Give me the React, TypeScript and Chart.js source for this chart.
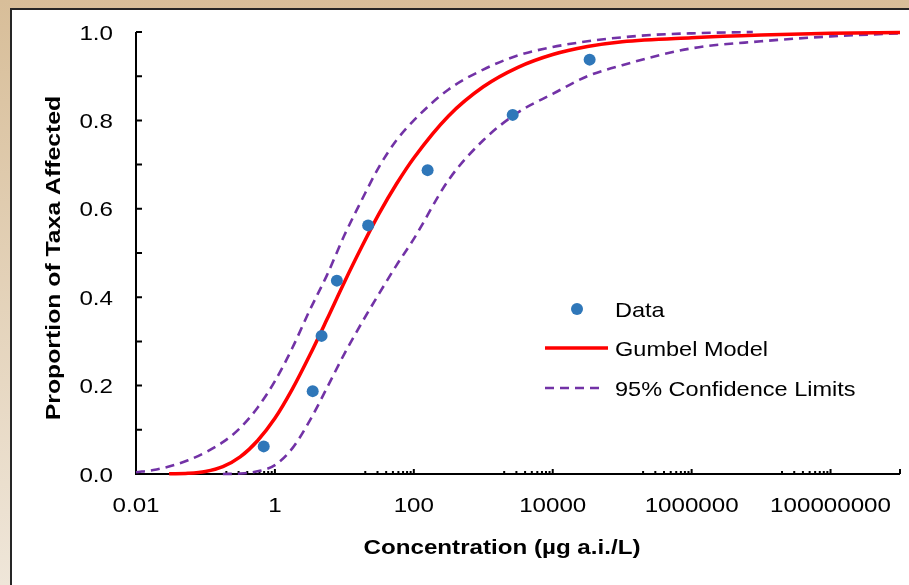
import { useEffect, useRef } from "react";
import { Chart, registerables } from "chart.js";

Chart.register(...registerables);

// ---- Data ----
const dataConc = [0.69, 3.5, 4.7, 7.8, 22, 158, 2650, 34000];
const dataProp = [0.0625, 0.1875, 0.3125, 0.4375, 0.5625, 0.6875, 0.8125, 0.9375];

const modelConc = [0.03, 0.056, 0.1, 0.178, 0.316, 0.562, 1, 1.78, 3.16, 5.62, 10, 17.8, 31.6, 56.2, 100, 316, 1000, 3160, 10000, 31600, 1e5, 1e6, 1e7, 1e8, 1e9];
const modelProp = [0.0003, 0.0015, 0.0057, 0.0166, 0.0386, 0.0753, 0.126, 0.192, 0.268, 0.35, 0.434, 0.514, 0.589, 0.656, 0.715, 0.81, 0.876, 0.92, 0.949, 0.967, 0.978, 0.987, 0.993, 0.997, 0.999];

const upperConc = [0.01, 0.0178, 0.0316, 0.0562, 0.1, 0.178, 0.316, 0.562, 1, 1.78, 3.16, 5.62, 10, 17.8, 31.6, 56.2, 100, 316, 1000, 3160, 10000, 31600, 1e5, 316000, 1e6, 3.16e6, 7.6e6];
const upperProp = [0.004, 0.009, 0.018, 0.031, 0.049, 0.072, 0.104, 0.15, 0.21, 0.285, 0.37, 0.45, 0.54, 0.62, 0.695, 0.755, 0.8, 0.87, 0.915, 0.947, 0.966, 0.979, 0.988, 0.994, 0.997, 0.999, 1.0];

const lowerConc = [0.178, 0.316, 0.562, 1, 1.78, 3.16, 5.62, 10, 17.8, 31.6, 56.2, 100, 316, 1000, 3160, 10000, 31600, 1e5, 1e6, 1e7, 1e8, 1e9];
const lowerProp = [0.0, 0.001, 0.006, 0.02, 0.058, 0.12, 0.195, 0.272, 0.342, 0.408, 0.472, 0.532, 0.665, 0.755, 0.818, 0.86, 0.9, 0.925, 0.963, 0.979, 0.99, 0.997];

// ---- Axis ticks ----
const xTickValues = [0.01, 1, 100, 10000, 1000000, 100000000];
const xTickLabels = ["0.01", "1", "100", "10000", "1000000", "100000000"];
const xMajorMarks = [1, 100, 10000, 1000000, 100000000, 1000000000];
const xMinorDecades = [0.1, 10, 1000, 100000, 10000000];
const xMinorMultipliers = [2, 3, 4, 5, 6, 7, 8, 9];
const yTickValues = [0, 0.2, 0.4, 0.6, 0.8, 1.0];
const yTickLabels = ["0.0", "0.2", "0.4", "0.6", "0.8", "1.0"];
const yMarkValues = [0.1, 0.2, 0.3, 0.4, 0.5, 0.6, 0.7, 0.8, 0.9, 1.0];

const legendLabels = ["Data", "Gumbel Model", "95% Confidence Limits"];
const xTitle = "Concentration (µg a.i./L)";
const yTitle = "Proportion of Taxa Affected";

const BLUE = "#2f77b9";
const RED = "#ff0000";
const PURPLE = "#7232a6";
const FAMILY = "'Liberation Sans', Arial, sans-serif";

function drawText(
  c: CanvasRenderingContext2D,
  text: string,
  x: number,
  y: number,
  align: CanvasTextAlign,
  font: string,
  sx: number,
  rot = 0
) {
  c.save();
  c.translate(x, y);
  if (rot) c.rotate(rot);
  c.scale(sx, 1);
  c.font = font;
  c.textAlign = align;
  c.textBaseline = "alphabetic";
  c.fillStyle = "#000";
  c.fillText(text, 0, 0);
  c.restore();
}

export default function App() {
  const ref = useRef<HTMLCanvasElement>(null);

  useEffect(() => {
    document.body.style.margin = "0";
    const canvas = ref.current!;
    const ctx = canvas.getContext("2d")!;

    const framePlugin = {
      id: "frame",
      beforeDraw(chart: any) {
        const c = chart.ctx as CanvasRenderingContext2D;
        const w = chart.width;
        const h = chart.height;
        c.save();
        const g = c.createLinearGradient(0, 0, 0, h);
        g.addColorStop(0, "#d8be99");
        g.addColorStop(1, "#efe6d9");
        c.fillStyle = g;
        c.fillRect(0, 0, w, h);
        c.fillStyle = "#ffffff";
        c.fillRect(12, 10, w - 12, h - 10);
        c.strokeStyle = "#262626";
        c.lineWidth = 2;
        c.beginPath();
        c.moveTo(11, h);
        c.lineTo(11, 9);
        c.lineTo(w, 9);
        c.stroke();
        c.restore();
      },
    };

    const axesPlugin = {
      id: "axesDraw",
      beforeDatasetsDraw(chart: any) {
        const c = chart.ctx as CanvasRenderingContext2D;
        const { left, right, top, bottom } = chart.chartArea;
        const xs = chart.scales.x;
        const ys = chart.scales.y;
        c.save();
        c.strokeStyle = "#000";
        c.lineWidth = 2;
        c.lineJoin = "miter";
        c.beginPath();
        c.moveTo(left, top);
        c.lineTo(left, bottom);
        c.lineTo(right, bottom);
        c.stroke();
        c.beginPath();
        yMarkValues.forEach((v) => {
          const py = ys.getPixelForValue(v);
          c.moveTo(left, py);
          c.lineTo(left + 6, py);
        });
        xMajorMarks.forEach((v) => {
          const px = xs.getPixelForValue(v);
          c.moveTo(px, bottom);
          c.lineTo(px, bottom - 5);
        });
        xMinorDecades.forEach((d) => {
          xMinorMultipliers.forEach((m) => {
            const px = xs.getPixelForValue(d * m);
            c.moveTo(px, bottom);
            c.lineTo(px, bottom - 3);
          });
        });
        c.stroke();
        c.restore();
      },
    };

    const overlayPlugin = {
      id: "overlay",
      afterDraw(chart: any) {
        const c = chart.ctx as CanvasRenderingContext2D;
        const { left } = chart.chartArea;
        const xs = chart.scales.x;
        const ys = chart.scales.y;
        const tickFont = `21px ${FAMILY}`;
        const boldFont = `bold 21px ${FAMILY}`;
        // y tick labels
        yTickValues.forEach((v, i) => {
          const py = ys.getPixelForValue(v);
          drawText(c, yTickLabels[i], left - 23, py + 7.5, "right", tickFont, 1.15);
        });
        // x tick labels
        xTickValues.forEach((v, i) => {
          const px = xs.getPixelForValue(v);
          drawText(c, xTickLabels[i], px, 511.5, "center", tickFont, 1.15);
        });
        // axis titles
        drawText(c, xTitle, 502, 554, "center", boldFont, 1.15);
        drawText(c, yTitle, 60, 258, "center", boldFont, 1.18, -Math.PI / 2);

        // legend
        const ds = chart.data.datasets;
        c.save();
        c.fillStyle = ds[0].pointBackgroundColor;
        c.beginPath();
        c.arc(577, 309, 6, 0, Math.PI * 2);
        c.fill();
        c.strokeStyle = ds[1].borderColor;
        c.lineWidth = ds[1].borderWidth;
        c.beginPath();
        c.moveTo(545, 348);
        c.lineTo(608, 348);
        c.stroke();
        c.strokeStyle = ds[2].borderColor;
        c.lineWidth = ds[2].borderWidth;
        c.setLineDash(ds[2].borderDash);
        c.beginPath();
        c.moveTo(545, 388);
        c.lineTo(603, 388);
        c.stroke();
        c.restore();
        const legendFont = `21px ${FAMILY}`;
        drawText(c, legendLabels[0], 615, 316.5, "left", legendFont, 1.12);
        drawText(c, legendLabels[1], 615, 355.5, "left", legendFont, 1.12);
        drawText(c, legendLabels[2], 615, 395.5, "left", legendFont, 1.12);
      },
    };

    const toPts = (xs: number[], ys: number[]) => xs.map((x, i) => ({ x, y: ys[i] }));

    const chart = new Chart(ctx, {
      type: "scatter",
      data: {
        datasets: [
          {
            label: legendLabels[0],
            data: toPts(dataConc, dataProp),
            showLine: false,
            pointRadius: 6,
            pointHoverRadius: 6,
            pointBackgroundColor: BLUE,
            pointBorderWidth: 0,
            borderColor: BLUE,
            clip: 8,
          },
          {
            label: legendLabels[1],
            data: toPts(modelConc, modelProp),
            showLine: true,
            borderColor: RED,
            borderWidth: 3.5,
            pointRadius: 0,
            cubicInterpolationMode: "monotone",
            clip: 5,
          },
          {
            label: legendLabels[2],
            data: toPts(upperConc, upperProp),
            showLine: true,
            borderColor: PURPLE,
            borderWidth: 2.6,
            borderDash: [9, 6],
            pointRadius: 0,
            cubicInterpolationMode: "monotone",
            clip: 5,
          },
          {
            label: "lower",
            data: toPts(lowerConc, lowerProp),
            showLine: true,
            borderColor: PURPLE,
            borderWidth: 2.6,
            borderDash: [9, 6],
            pointRadius: 0,
            cubicInterpolationMode: "monotone",
            clip: 5,
          },
        ],
      } as any,
      options: {
        animation: false,
        responsive: false,
        maintainAspectRatio: false,
        events: [],
        layout: { padding: { left: 0, right: 9, top: 32, bottom: 0 } },
        plugins: { legend: { display: false }, tooltip: { enabled: false } },
        scales: {
          x: {
            type: "logarithmic",
            min: 0.01,
            max: 1e9,
            grid: { display: false, drawTicks: false },
            border: { display: false },
            ticks: { display: false },
            afterFit(s: any) {
              s.height = 111;
            },
          },
          y: {
            type: "linear",
            min: 0,
            max: 1,
            grid: { display: false, drawTicks: false },
            border: { display: false },
            ticks: { display: false },
            afterFit(s: any) {
              s.width = 136;
            },
          },
        },
      } as any,
      plugins: [framePlugin, axesPlugin, overlayPlugin],
    });

    return () => chart.destroy();
  }, []);

  return <canvas ref={ref} width={909} height={585} style={{ display: "block" }} />;
}
